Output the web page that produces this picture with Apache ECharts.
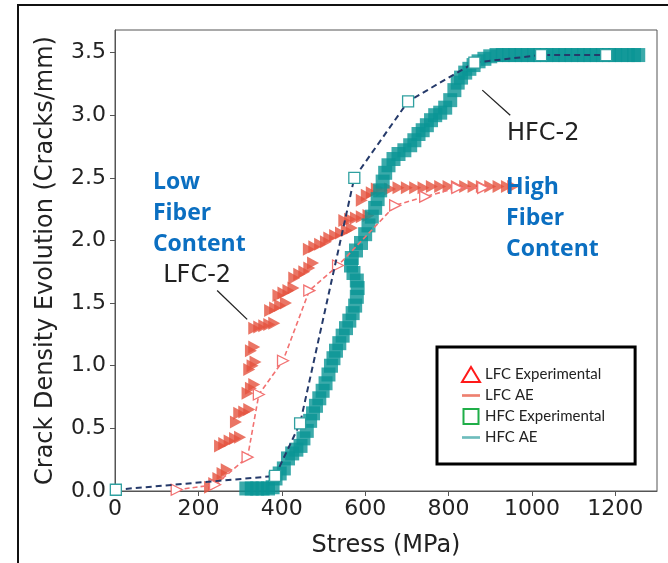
<!DOCTYPE html>
<html>
<head>
<meta charset="utf-8">
<script src="https://cdn.jsdelivr.net/npm/echarts@6/dist/echarts.min.js"></script>
<style>
  html, body { margin: 0; padding: 0; background: #fff; }
  #main { width: 668px; height: 563px; }
</style>
</head>
<body>
<div id="main"></div>
<script>
// experimental points (stress in MPa, crack density in cracks/mm)
const lfcExpStress = [148, 240, 318, 345, 403, 466, 535, 672, 744, 821, 883];
const lfcExpDensity = [0.01, 0.05, 0.27, 0.77, 1.04, 1.60, 1.80, 2.28, 2.35, 2.42, 2.42];
const hfcExpStress = [2, 384, 444, 574, 703, 862, 1022, 1178];
const hfcExpDensity = [0.01, 0.12, 0.54, 2.50, 3.11, 3.42, 3.48, 3.48];

// acoustic emission estimates
const lfcAe = [
  [228, 0.03], [238, 0.06], [248, 0.10], [258, 0.14], [268, 0.17],
  [252, 0.36], [262, 0.38], [275, 0.40], [288, 0.42], [300, 0.43],
  [290, 0.55], [298, 0.62], [310, 0.63], [322, 0.65],
  [318, 0.78], [326, 0.82], [334, 0.85],
  [322, 0.97], [330, 1.00], [337, 1.03],
  [326, 1.12], [334, 1.15],
  [334, 1.30], [346, 1.31], [358, 1.32], [370, 1.33], [382, 1.34],
  [372, 1.44], [384, 1.46], [396, 1.48], [410, 1.50],
  [392, 1.56], [404, 1.58], [416, 1.60], [428, 1.62],
  [430, 1.70], [442, 1.73], [454, 1.75], [466, 1.78], [475, 1.82],
  [465, 1.93], [478, 1.95], [492, 1.97], [506, 1.99],
  [514, 2.02], [528, 2.04], [542, 2.06], [556, 2.08], [568, 2.10],
  [550, 2.16], [564, 2.17], [578, 2.18], [592, 2.19], [608, 2.20],
  [592, 2.32], [604, 2.36], [616, 2.38], [628, 2.41],
  [640, 2.40], [660, 2.41], [680, 2.42], [700, 2.42], [720, 2.42],
  [740, 2.42], [760, 2.43], [780, 2.43], [800, 2.43], [820, 2.43],
  [840, 2.43], [860, 2.43], [880, 2.43], [900, 2.43], [920, 2.43],
  [940, 2.43], [955, 2.43]
];
const hfcAe = [
  [315, 0.02], [328, 0.02], [341, 0.02], [354, 0.02], [367, 0.02], [378, 0.03],
  [385, 0.10], [395, 0.14], [405, 0.18],
  [415, 0.26], [425, 0.30], [435, 0.33], [445, 0.36],
  [452, 0.42], [460, 0.48], [468, 0.56], [475, 0.62], [482, 0.68],
  [490, 0.74], [498, 0.80], [505, 0.86], [512, 0.93], [518, 1.00],
  [524, 1.06], [530, 1.12], [538, 1.18], [546, 1.24], [554, 1.30],
  [562, 1.36], [570, 1.42], [576, 1.48], [580, 1.55], [582, 1.62],
  [580, 1.68], [572, 1.74], [566, 1.80], [568, 1.86], [578, 1.92],
  [590, 1.98], [600, 2.05], [608, 2.12], [616, 2.19], [624, 2.26],
  [630, 2.33], [636, 2.40], [642, 2.47], [648, 2.54], [656, 2.60],
  [668, 2.65], [680, 2.69], [694, 2.72], [708, 2.76], [718, 2.80],
  [728, 2.85], [738, 2.88], [748, 2.92], [758, 2.96], [768, 3.00],
  [780, 3.02], [792, 3.06], [804, 3.12], [814, 3.20], [822, 3.26],
  [830, 3.30], [840, 3.34], [850, 3.37], [860, 3.40], [872, 3.43],
  [886, 3.45], [900, 3.47], [915, 3.48], [930, 3.48], [945, 3.48],
  [960, 3.48], [975, 3.48], [990, 3.48], [1005, 3.48], [1020, 3.48],
  [1035, 3.48], [1050, 3.48], [1065, 3.48], [1080, 3.48], [1095, 3.48],
  [1110, 3.48], [1125, 3.48], [1140, 3.48], [1155, 3.48], [1170, 3.48],
  [1185, 3.48], [1200, 3.48], [1215, 3.48], [1230, 3.48], [1245, 3.48],
  [1255, 3.48]
];

// annotations, anchored in data coordinates
const curveNotes = [
  { text: "LFC-2", at: [197, 1.72] },
  { text: "HFC-2", at: [1027, 2.85] }
];
const leaderLines = [
  [[245, 1.60], [317, 1.37]],
  [[881, 3.20], [948, 3.00]]
];
const groupNotes = [
  { text: "Low\nFiber\nContent", at: [91, 2.59] },
  { text: "High\nFiber\nContent", at: [938, 2.55] }
];

const axisFont = "DejaVu Sans";
const chart = echarts.init(document.getElementById("main"));

const zip = (xs, ys) => xs.map((x, i) => [x, ys[i]]);

chart.setOption({
  animation: false,
  grid: {
    left: 115, right: 11, top: 30, bottom: 71,
    show: true, borderColor: "#555", borderWidth: 1
  },
  xAxis: {
    type: "value", min: 0, max: 1300, interval: 200,
    name: "Stress (MPa)", nameLocation: "middle", nameGap: 43,
    nameTextStyle: { fontFamily: axisFont, fontSize: 24, color: "#222" },
    axisLine: { show: true, lineStyle: { color: "#555" } },
    axisTick: { show: true, length: 5, lineStyle: { color: "#555" } },
    axisLabel: {
      fontFamily: axisFont, fontSize: 22, color: "#222", margin: 7, showMaxLabel: false,
      formatter: (v) => String(v)
    },
    splitLine: { show: false }
  },
  yAxis: {
    type: "value", min: 0, max: 3.68, interval: 0.5,
    name: "Crack Density Evolution (Cracks/mm)", nameLocation: "middle", nameGap: 57,
    nameTextStyle: { fontFamily: axisFont, fontSize: 24, color: "#222" },
    axisLine: { show: true, lineStyle: { color: "#555" } },
    axisTick: { show: true, length: 5, lineStyle: { color: "#555" } },
    axisLabel: {
      fontFamily: axisFont, fontSize: 22, color: "#222", margin: 9, showMaxLabel: false,
      formatter: (v) => v.toFixed(1)
    },
    splitLine: { show: false }
  },
  legend: {
    orient: "vertical", left: 437, top: 347,
    padding: [19, 30, 19, 24], itemGap: 5, itemWidth: 18, itemHeight: 15,
    borderColor: "#000", borderWidth: 3, backgroundColor: "#fff",
    selectedMode: false, symbolRotate: 0,
    textStyle: { fontFamily: "Lato", fontSize: 15, color: "#222" },
    data: [
      { name: "LFC Experimental", icon: "triangle", itemStyle: { color: "#fff", borderColor: "#ff1a1a", borderWidth: 2 } },
      { name: "LFC AE", icon: "path://M0,0H20V3H0Z", itemStyle: { color: "#e8604c", borderWidth: 0 } },
      { name: "HFC Experimental", icon: "path://M0,0H10V10H0Z", itemStyle: { color: "#fff", borderColor: "#1fae48", borderWidth: 2 } },
      { name: "HFC AE", icon: "path://M0,0H20V3H0Z", itemStyle: { color: "#4aabab", borderWidth: 0 } }
    ]
  },
  series: [
    {
      name: "LFC AE", type: "scatter", data: lfcAe, z: 2,
      symbol: "triangle", symbolRotate: -90, symbolSize: [13, 12],
      itemStyle: { color: "#e5533f" }
    },
    {
      name: "HFC AE", type: "scatter", data: hfcAe, z: 3,
      symbol: "rect", symbolSize: 14,
      itemStyle: { color: "#0a9595" }
    },
    {
      name: "LFC Experimental", type: "line", data: zip(lfcExpStress, lfcExpDensity), z: 4,
      symbol: "triangle", symbolRotate: -90, symbolSize: 11, showAllSymbol: true,
      itemStyle: { color: "#fff", borderColor: "#f27272", borderWidth: 1.3 },
      lineStyle: { color: "#f27272", type: [5, 3], width: 1.6 }
    },
    {
      name: "HFC Experimental", type: "line", data: zip(hfcExpStress, hfcExpDensity), z: 5,
      symbol: "rect", symbolSize: 11, showAllSymbol: true,
      itemStyle: { color: "#fff", borderColor: "#2fa0a0", borderWidth: 1.3 },
      lineStyle: { color: "#253a6a", type: [6, 4], width: 2 }
    }
  ]
});

const px = (p) => chart.convertToPixel({ gridIndex: 0 }, p);
const graphics = [
  {
    type: "rect", silent: true, z: 100,
    shape: { x: 18, y: 5, width: 700, height: 600 },
    style: { fill: "none", stroke: "#111", lineWidth: 2 }
  }
];
curveNotes.forEach((n) => {
  const p = px(n.at);
  graphics.push({
    type: "text", x: p[0], y: p[1], z: 50,
    style: {
      text: n.text, fill: "#222", fontFamily: axisFont, fontSize: 24,
      align: "center", verticalAlign: "middle", textAlign: "center", textVerticalAlign: "middle"
    }
  });
});
leaderLines.forEach((l) => {
  const a = px(l[0]), b = px(l[1]);
  graphics.push({
    type: "line", z: 50,
    shape: { x1: a[0], y1: a[1], x2: b[0], y2: b[1] },
    style: { stroke: "#222", lineWidth: 1.3 }
  });
});
groupNotes.forEach((n) => {
  const p = px(n.at);
  graphics.push({
    type: "text", x: p[0], y: p[1], z: 50,
    style: {
      text: n.text, fill: "#0b6fc1", fontFamily: "Open Sans", fontWeight: "bold", fontSize: 23,
      lineHeight: 31, align: "left", verticalAlign: "top", textAlign: "left", textVerticalAlign: "top"
    }
  });
});
chart.setOption({ graphic: graphics });
</script>
</body>
</html>
